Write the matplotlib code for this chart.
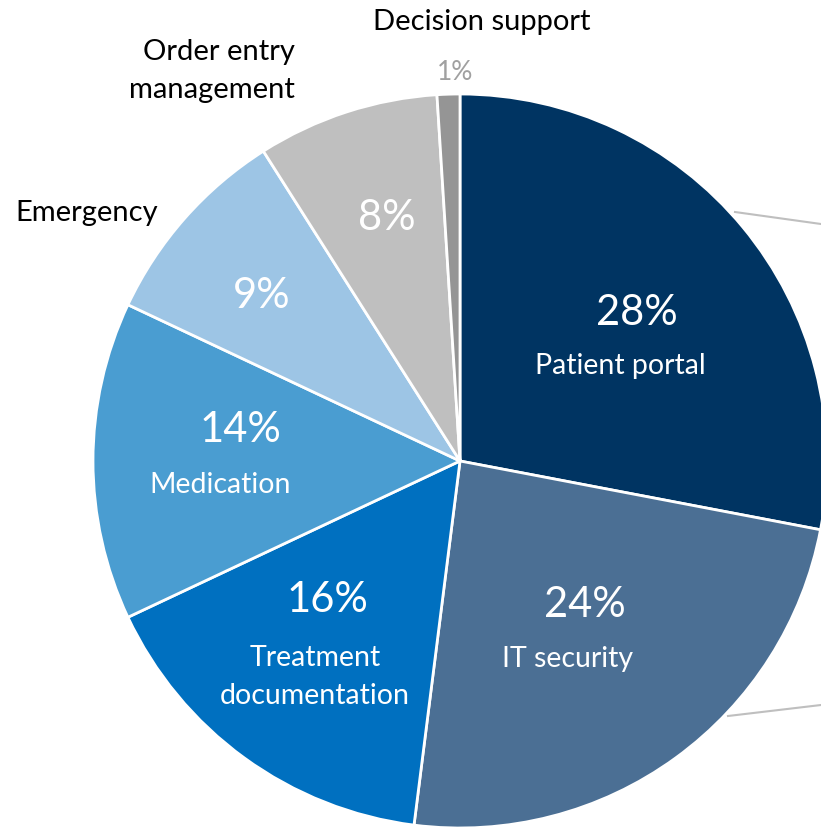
import matplotlib.pyplot as plt

# IT application areas (share of responses, %)
categories = ["Patient portal", "IT security", "Treatment\ndocumentation", "Medication",
              "Emergency", "Order entry\nmanagement", "Decision support"]
shares = [28, 24, 16, 14, 9, 8, 1]
colors = ["#003462", "#4B6F94", "#0070C0", "#4A9DD1", "#9DC5E5", "#BFBFBF", "#959595"]

plt.rcParams["font.family"] = ["Lato", "DejaVu Sans"]

W, H = 821, 828
fig = plt.figure(figsize=(W / 100, H / 100), dpi=100)
ax = fig.add_axes([0, 0, 1, 1])

def Y(py):
    return H - py

wedges, _ = ax.pie(shares, colors=colors, startangle=90, counterclock=False,
                   center=(460, Y(462)), radius=367, frame=True,
                   wedgeprops=dict(edgecolor="white", linewidth=2))
ax.set_xlim(0, W)
ax.set_ylim(0, H)
ax.set_aspect("equal")
ax.axis("off")

# labels inside slices
big = 30
mid = 20.5
ax.text(637, Y(313), f"{shares[0]}%", color="white", fontsize=big, ha="center", va="center")
ax.text(620, Y(366), categories[0], color="white", fontsize=mid, ha="center", va="center")
ax.text(585, Y(605), f"{shares[1]}%", color="white", fontsize=big, ha="center", va="center")
ax.text(568, Y(659), categories[1], color="white", fontsize=mid, ha="center", va="center")
ax.text(327, Y(600), f"{shares[2]}%", color="white", fontsize=big, ha="center", va="center")
ax.text(315, Y(677), categories[2], color="white", fontsize=mid, ha="center", va="center",
        linespacing=1.6)
ax.text(240, Y(430), f"{shares[3]}%", color="white", fontsize=big, ha="center", va="center")
ax.text(220, Y(485), categories[3], color="white", fontsize=mid, ha="center", va="center")
ax.text(262, Y(296), f"{shares[4]}%", color="white", fontsize=big, ha="center", va="center")
ax.text(387, Y(218), f"{shares[5]}%", color="white", fontsize=big, ha="center", va="center")

# labels outside the pie
ax.text(455, Y(72), f"{shares[6]}%", color="#A0A0A0", fontsize=19, ha="center", va="center")
ax.text(482, Y(22), categories[6], color="black", fontsize=21, ha="center", va="center")
ax.text(295, Y(71), categories[5], color="black", fontsize=21, ha="right", va="center",
        linespacing=1.6, multialignment="right")
ax.text(87, Y(213), categories[4], color="black", fontsize=21, ha="center", va="center")

# leader lines running off the right edge
ax.plot([735, 821], [Y(213), Y(225)], color="#BFBFBF", linewidth=1.5)
ax.plot([728, 821], [Y(717), Y(706)], color="#BFBFBF", linewidth=1.5)

fig.savefig("out.png", dpi=100)
